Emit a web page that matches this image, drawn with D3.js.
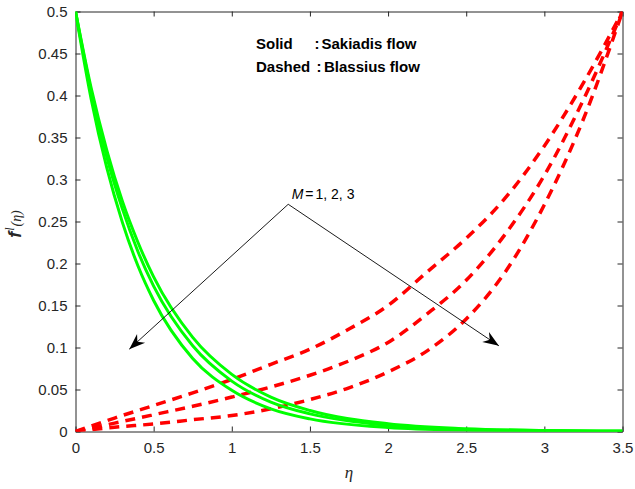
<!DOCTYPE html>
<html>
<head>
<meta charset="utf-8">
<script src="https://cdn.jsdelivr.net/npm/d3@7"></script>
<style>
  body { margin: 0; background: #fff; }
  text { font-family: "Liberation Sans", Arial, sans-serif; }
</style>
</head>
<body>
<div id="chart"></div>
<script>
// eta grid for the Sakiadis (solid) curves
const etaSolid = [0, 0.1, 0.2, 0.3, 0.4, 0.5, 0.75, 1.0, 1.25, 1.5, 2.0, 2.5, 3.0, 3.5];
const sakiadisM1 = [0.5, 0.409, 0.335, 0.274, 0.225, 0.184, 0.112, 0.068, 0.041, 0.025, 0.0092, 0.0034, 0.0012, 0.0005];
const sakiadisM2 = [0.5, 0.405, 0.327, 0.265, 0.214, 0.173, 0.102, 0.060, 0.035, 0.021, 0.0072, 0.0025, 0.0009, 0.0003];
const sakiadisM3 = [0.5, 0.396, 0.314, 0.249, 0.197, 0.156, 0.087, 0.049, 0.027, 0.015, 0.0047, 0.0015, 0.0005, 0.0002];

// eta grid for the Blasius (dashed) curves
const etaDashed = [0, 0.25, 0.5, 0.75, 1.0, 1.25, 1.5, 1.75, 2.0, 2.25, 2.5, 2.75, 3.0, 3.25, 3.5];
const blasiusM1 = [0, 0.016, 0.031, 0.046, 0.062, 0.080, 0.098, 0.122, 0.150, 0.190, 0.230, 0.278, 0.340, 0.415, 0.5];
const blasiusM2 = [0, 0.010, 0.020, 0.030, 0.041, 0.053, 0.067, 0.084, 0.106, 0.140, 0.180, 0.235, 0.305, 0.395, 0.5];
const blasiusM3 = [0, 0.005, 0.009, 0.014, 0.019, 0.027, 0.038, 0.052, 0.071, 0.096, 0.134, 0.190, 0.270, 0.372, 0.5];

const xTicks = [0, 0.5, 1, 1.5, 2, 2.5, 3, 3.5];
const yTicks = [0, 0.05, 0.1, 0.15, 0.2, 0.25, 0.3, 0.35, 0.4, 0.45, 0.5];

// annotation anchors in data units
const arrowApex = [1.361, 0.2705];
const arrowTips = [[0.344, 0.098], [2.709, 0.102]];

function main() {
    const width = 635, height = 489;
    const margin = { left: 75.5, right: 12.5, top: 11.5, bottom: 57.5 };

    const svg = d3.select("#chart").append("svg")
        .attr("width", width)
        .attr("height", height)
        .style("background", "#fff");

    const x = d3.scaleLinear().domain([0, 3.5]).range([margin.left, width - margin.right]);
    const y = d3.scaleLinear().domain([0, 0.5]).range([height - margin.bottom, margin.top]);

    svg.append("defs").append("clipPath").attr("id", "clip")
        .append("rect")
        .attr("x", x(0)).attr("y", y(0.5))
        .attr("width", x(3.5) - x(0)).attr("height", y(0) - y(0.5));

    const axisColor = "#262626";

    function styleAxis(g) {
        g.selectAll("path, line").attr("stroke", axisColor);
        g.selectAll("text").attr("fill", axisColor)
            .style("font-family", "'Liberation Sans', Arial, sans-serif")
            .style("font-size", "15px");
    }

    svg.append("g")
        .attr("transform", `translate(0,${y(0)})`)
        .call(d3.axisBottom(x).tickValues(xTicks).tickSizeInner(-5).tickSizeOuter(0).tickPadding(11)
            .tickFormat(d3.format("")))
        .call(styleAxis);

    svg.append("g")
        .attr("transform", `translate(0,${y(0.5)})`)
        .call(d3.axisTop(x).tickValues(xTicks).tickSizeInner(-5).tickSizeOuter(0).tickFormat(""))
        .call(styleAxis);

    svg.append("g")
        .attr("transform", `translate(${x(0)},0)`)
        .call(d3.axisLeft(y).tickValues(yTicks).tickSizeInner(-5).tickSizeOuter(0).tickPadding(8)
            .tickFormat(d => d3.format("")(+d.toFixed(2))))
        .call(styleAxis);

    svg.append("g")
        .attr("transform", `translate(${x(3.5)},0)`)
        .call(d3.axisRight(y).tickValues(yTicks).tickSizeInner(-5).tickSizeOuter(0).tickFormat(""))
        .call(styleAxis);

    const plot = svg.append("g").attr("clip-path", "url(#clip)");

    const line = d3.line()
        .x(d => x(d[0]))
        .y(d => y(d[1]))
        .curve(d3.curveMonotoneX);

    [blasiusM1, blasiusM2, blasiusM3].forEach(s => {
        plot.append("path")
            .datum(etaDashed.map((e, i) => [e, s[i]]))
            .attr("fill", "none")
            .attr("stroke", "#ff0000")
            .attr("stroke-width", 3.5)
            .attr("stroke-dasharray", "10,7")
            .attr("d", line);
    });

    [sakiadisM1, sakiadisM2, sakiadisM3].forEach(s => {
        plot.append("path")
            .datum(etaSolid.map((e, i) => [e, s[i]]))
            .attr("fill", "none")
            .attr("stroke", "#00ff00")
            .attr("stroke-width", 3)
            .attr("d", line);
    });

    // arrowheads
    svg.select("defs").append("marker")
        .attr("id", "head")
        .attr("viewBox", "-16 -8 18 16")
        .attr("refX", 0).attr("refY", 0)
        .attr("markerUnits", "userSpaceOnUse")
        .attr("markerWidth", 18).attr("markerHeight", 16)
        .attr("orient", "auto")
        .append("path")
        .attr("d", "M0,0 L-16,-6 L-11,0 L-16,6 Z")
        .attr("fill", "#000");

    arrowTips.forEach(t => {
        svg.append("line")
            .attr("x1", x(arrowApex[0])).attr("y1", y(arrowApex[1]))
            .attr("x2", x(t[0])).attr("y2", y(t[1]))
            .attr("stroke", "#000")
            .attr("stroke-width", 0.9)
            .attr("marker-end", "url(#head)");
    });

    const mText = svg.append("text")
        .attr("x", x(1.383)).attr("y", y(0.2764))
        .style("font-size", "14px")
        .attr("fill", "#000");
    mText.append("tspan").style("font-style", "italic").text("M");
    mText.append("tspan").attr("dx", 2).text("=");
    mText.append("tspan").attr("dx", 2).text("1, 2, 3");

    // legend note
    const legendRows = [["Solid", "Sakiadis flow"], ["Dashed", "Blassius flow"]];
    legendRows.forEach((r, i) => {
        const yy = y(0.4549) + i * 22.4;
        svg.append("text").attr("x", 256).attr("y", yy)
            .style("font-size", "15px").style("font-weight", "bold").text(r[0]);
        svg.append("text").attr("x", 314.5 + i * 2).attr("y", yy)
            .style("font-size", "15px").style("font-weight", "bold").text(":");
        svg.append("text").attr("x", 321.5 + i * 2.5).attr("y", yy)
            .style("font-size", "15px").style("font-weight", "bold").text(r[1]);
    });

    // axis labels
    svg.append("text")
        .attr("x", x(1.75))
        .attr("y", 478)
        .attr("text-anchor", "middle")
        .style("font-family", "'Liberation Serif', 'Times New Roman', serif")
        .style("font-style", "italic")
        .style("font-size", "17px")
        .attr("fill", "#262626")
        .text("η");

    const yl = svg.append("text")
        .attr("transform", `translate(21,${y(0.247)}) rotate(-90)`)
        .attr("text-anchor", "middle")
        .attr("fill", "#262626");
    yl.append("tspan")
        .style("font-size", "18px").style("font-weight", "bold").style("font-style", "italic")
        .text("f");
    yl.append("tspan")
        .attr("dy", -7)
        .attr("dx", 1)
        .style("font-family", "'Liberation Serif', serif")
        .style("font-size", "12px").style("font-style", "italic")
        .text("l");
    yl.append("tspan")
        .attr("dy", 7)
        .attr("dx", 1)
        .style("font-family", "'Liberation Serif', serif")
        .style("font-size", "14px").style("font-style", "italic")
        .text("(η)");
}
main();
</script>
</body>
</html>
